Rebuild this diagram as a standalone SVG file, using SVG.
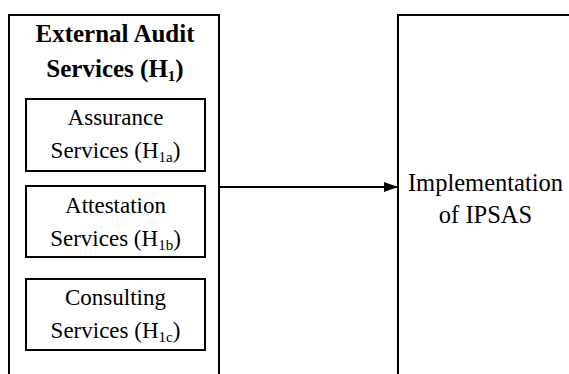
<svg xmlns="http://www.w3.org/2000/svg" width="569" height="374" viewBox="0 0 569 374" font-family="Liberation Serif">
  <style>
    .box { fill: #fff; stroke: #000; stroke-width: 2; }
    .title { font-size: 25px; font-weight: bold; }
    .sub { font-size: 23px; }
    .main { font-size: 24.5px; }
    .s { font-size: 15px; }
    .edge { stroke: #000; stroke-width: 2; fill: none; }
  </style>
  <defs>
    <marker id="arrow" markerWidth="14" markerHeight="10" refX="13" refY="5" orient="auto" markerUnits="userSpaceOnUse">
      <path d="M0,0 L14,5 L0,10 Z" fill="#000"/>
    </marker>
  </defs>
  <rect width="569" height="374" fill="#fff"/>

  <!-- Independent variable: external audit services -->
  <g id="external-audit" font-family="Liberation Serif">
    <rect class="box" x="9" y="15" width="210" height="380"/>
    <text class="title" font-family="Liberation Serif" text-anchor="middle" x="115" y="42">External Audit</text>
    <text class="title" font-family="Liberation Serif" text-anchor="middle" x="115" y="77">Services (H<tspan class="s" dy="4">1</tspan><tspan dy="-4">)</tspan></text>
  </g>

  <g id="assurance" font-family="Liberation Serif">
    <rect class="box" x="26" y="99" width="179" height="72"/>
    <text class="sub" font-family="Liberation Serif" text-anchor="middle" x="115.5" y="125">Assurance</text>
    <text class="sub" font-family="Liberation Serif" text-anchor="middle" x="115.5" y="158">Services (H<tspan class="s" dy="4">1a</tspan><tspan dy="-4">)</tspan></text>
  </g>

  <g id="attestation" font-family="Liberation Serif">
    <rect class="box" x="26" y="186" width="179" height="71"/>
    <text class="sub" font-family="Liberation Serif" text-anchor="middle" x="115.5" y="213">Attestation</text>
    <text class="sub" font-family="Liberation Serif" text-anchor="middle" x="115.5" y="246">Services (H<tspan class="s" dy="4">1b</tspan><tspan dy="-4">)</tspan></text>
  </g>

  <g id="consulting" font-family="Liberation Serif">
    <rect class="box" x="26" y="279" width="179" height="71"/>
    <text class="sub" font-family="Liberation Serif" text-anchor="middle" x="115.5" y="305">Consulting</text>
    <text class="sub" font-family="Liberation Serif" text-anchor="middle" x="115.5" y="338">Services (H<tspan class="s" dy="4">1c</tspan><tspan dy="-4">)</tspan></text>
  </g>

  <!-- Dependent variable -->
  <g id="ipsas" font-family="Liberation Serif">
    <rect class="box" x="398" y="15" width="200" height="380"/>
    <text class="main" font-family="Liberation Serif" text-anchor="middle" x="485.5" y="191">Implementation</text>
    <text class="main" font-family="Liberation Serif" text-anchor="middle" x="485.5" y="223">of IPSAS</text>
  </g>

  <g id="connectors">
    <line class="edge" x1="219" y1="187" x2="397" y2="187" marker-end="url(#arrow)"/>
  </g>
</svg>
